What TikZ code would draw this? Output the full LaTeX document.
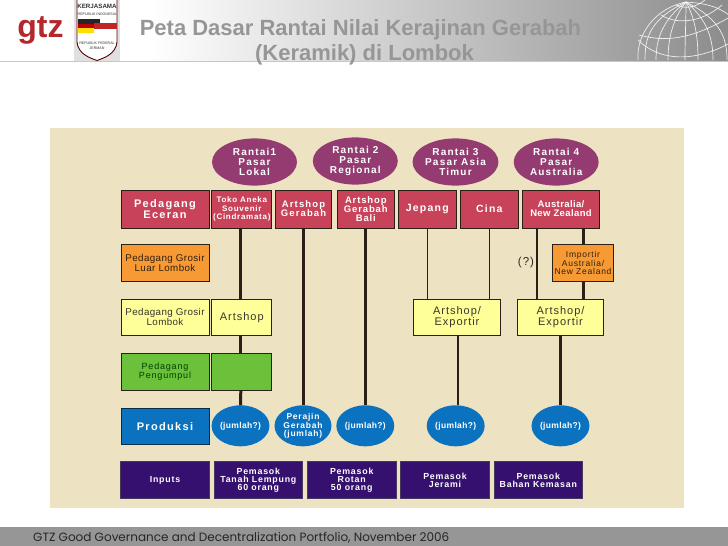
\documentclass[tikz,border=0pt]{standalone}
\usepackage{fontspec}
\setmainfont{Liberation Sans}
\newfontfamily\spwide[LetterSpace=12]{Liberation Sans}
\newfontfamily\spmid[LetterSpace=9]{Liberation Sans}
\newfontfamily\spnarrow[LetterSpace=4]{Liberation Sans}
\newfontfamily\footfont{Poppins}
\usetikzlibrary{shapes.geometric, positioning}

\definecolor{panelbg}{HTML}{EDE3C3}
\definecolor{plum}{HTML}{943C71}
\definecolor{brick}{HTML}{C8435A}
\definecolor{amber}{HTML}{F79A33}
\definecolor{paleyellow}{HTML}{FFFF99}
\definecolor{leaf}{HTML}{6CC13A}
\definecolor{seablue}{HTML}{0A72BE}
\definecolor{indigo}{HTML}{35106F}
\definecolor{darkline}{HTML}{2A2015}
\definecolor{headgray}{HTML}{8C8C8C}
\definecolor{titlegray}{HTML}{969696}
\definecolor{gtzred}{HTML}{B5272C}

\tikzset{
  cell/.style={rectangle, draw=darkline, line width=0.9pt, inner sep=0pt, outer sep=0pt, align=center},
  redcell/.style={cell, fill=brick, text=white},
  orangecell/.style={cell, fill=amber, text=black!75!brown},
  yellowcell/.style={cell, fill=paleyellow, text=black!80!olive},
  greencell/.style={cell, fill=leaf, text=black!75!green},
  inputcell/.style={cell, draw=black!50!indigo!80, fill=indigo, text=white, minimum width=88.7, minimum height=36.3},
  chainoval/.style={ellipse, fill=plum, text=white, inner sep=0pt, outer sep=0pt, align=center,
    minimum width=85, minimum height=47.2, font=\spwide\bfseries\fontsize{10}{10}\selectfont},
  jumlahoval/.style={ellipse, fill=seablue, text=white, inner sep=0pt, outer sep=0pt, align=center,
    minimum width=57, minimum height=41, font=\spnarrow\bfseries\fontsize{8.5}{7.6}\selectfont},
  thickflow/.style={draw=darkline, line width=3pt},
  thinflow/.style={draw=darkline, line width=1.6pt},
}

\begin{document}
\begin{tikzpicture}[x=1pt,y=-1pt]
\useasboundingbox (0,0) rectangle (728,546);

% ---------- Header band ----------
\shade[left color=white,right color=headgray] (150,0) rectangle (728,61);
\draw[black!22,line width=0.8pt] (0,61) -- (728,61);

% Globe, clipped by the band
\begin{scope}
  \clip (628,0) rectangle (728,60.5);
  \begin{scope}[draw=white,opacity=0.85,line width=0.7pt]
    \draw (638,60) .. controls (636,35) and (655,8) .. (686,2);
    \draw (686,2) .. controls (715,4) and (725,10) .. (740,25);
    \foreach \xb/\xc in {645/648, 656/662, 668/672, 685/686, 698/696, 713/708, 727/722} {
      \draw (686,2) .. controls (\xc,20) and (\xb,40) .. (\xb,60);
    }
    \draw (639,35) .. controls (665,42) and (690,40) .. (730,17);
    \draw (638,40) .. controls (660,62) and (695,62) .. (730,43);
    \draw (661,15) .. controls (675,24) and (700,24) .. (722,5);
    \draw (676,5) .. controls (685,9) and (695,8) .. (705,0);
  \end{scope}
\end{scope}

% ---------- Logos ----------
\node[font=\bfseries\fontsize{32}{32}\selectfont, text=gtzred, inner sep=0pt, anchor=base] (gtz) at (40.5,37) {gtz};

\fill[black!12] (74,0) rectangle (120,61);
\filldraw[fill=white,draw=red!35!black,line width=0.9pt]
  (77,-1) -- (77,42) .. controls (78,54) and (90,58) .. (97,60.5)
  .. controls (104,58) and (116,54) .. (117,42) -- (117,-1);
\fill[black!85] (78,19) rectangle (100,24);
\fill[red!75!black] (78,24) rectangle (94,28);
\fill[red!70!black!85] (94,23) rectangle (117,29);
\fill[yellow!80!orange] (78,28) rectangle (94,33);
\node[font=\bfseries\fontsize{6.2}{6.2}\selectfont, text=black!80, inner sep=0pt] (kerjasama) at (97,6.5) {KERJASAMA};
\node[font=\fontsize{3.6}{3.6}\selectfont, text=black!80, inner sep=0pt] (indonesia) at (97,14.5) {REPUBLIK INDONESIA};
\node[font=\fontsize{3.6}{5}\selectfont, text=black!80, inner sep=0pt, align=center] (jerman) at (97,45.5) {REPUBLIK FEDERAL\\JERMAN};

% ---------- Title ----------
\node[font=\bfseries\fontsize{22}{25.5}\selectfont, text=titlegray, inner sep=0pt, align=center, anchor=base] (title) at (360.5,60.5)
  {Peta Dasar Rantai Nilai Kerajinan Gerabah\\\hspace*{8pt}(Keramik) di Lombok};

% ---------- Panel ----------
\fill[panelbg] (50,128) rectangle (684,508);

% Chains
\node[chainoval] (chaina) at (254.5,162) {Rantai1\\Pasar\\Lokal};
\node[chainoval] (chainb) at (355.3,161) {Rantai 2\\Pasar\\Regional};
\node[chainoval] (chainc) at (455.5,162) {Rantai 3\\Pasar Asia\\Timur};
\node[chainoval] (chaind) at (556.2,162) {Rantai 4\\Pasar\\Australia};

% Retail row
\node[redcell, minimum width=88, minimum height=38, font=\spwide\bfseries\fontsize{11}{11}\selectfont] (eceran) at (165,209) {Pedagang\\Eceran};
\node[redcell, minimum width=60, minimum height=38, font=\spmid\bfseries\fontsize{8}{8.2}\selectfont] (toko) at (241.8,209) {Toko Aneka\\Souvenir\\(Cindramata)};
\node[redcell, minimum width=56.5, minimum height=38, font=\spwide\bfseries\fontsize{9.5}{9}\selectfont] (gerabah) at (303.5,209) {Artshop\\Gerabah};
\node[redcell, minimum width=57, minimum height=38, font=\spmid\bfseries\fontsize{9.5}{9}\selectfont] (bali) at (365.8,209) {Artshop\\Gerabah\\Bali};
\node[redcell, minimum width=58, minimum height=38, font=\spwide\bfseries\fontsize{10.5}{11}\selectfont] (jepang) at (427.3,209) {Jepang};
\node[redcell, minimum width=58, minimum height=38, font=\spwide\bfseries\fontsize{10.5}{11}\selectfont] (cina) at (489.3,209) {Cina};
\node[redcell, minimum width=77.4, minimum height=38, font=\spnarrow\bfseries\fontsize{9.5}{9}\selectfont] (aus) at (561,209) {Australia/\\New Zealand};

% Wholesale row
\node[orangecell, minimum width=88, minimum height=37.4, font=\spnarrow\fontsize{9.8}{8}\selectfont] (luar) at (165,263) {Pedagang Grosir\\Luar Lombok};
\node[orangecell, minimum width=61.4, minimum height=37.4, font=\spmid\fontsize{8.5}{7.6}\selectfont] (importir) at (583,263) {Importir\\Australia/\\New Zealand};
\node[inner sep=0pt, font=\spmid\fontsize{11.5}{11.5}\selectfont, text=black!85] (tanya) at (526,262.7) {(?)};

% Local row
\node[yellowcell, minimum width=88, minimum height=36, font=\spnarrow\fontsize{9.8}{8.2}\selectfont] (lombok) at (165,317.3) {Pedagang Grosir\\Lombok};
\node[yellowcell, minimum width=60, minimum height=36, font=\spmid\fontsize{11}{10}\selectfont] (artshop) at (241.8,317.3) {Artshop};
\node[yellowcell, minimum width=87.4, minimum height=36, font=\spmid\fontsize{11}{9}\selectfont] (exportira) at (457,317.3) {Artshop/\\Exportir};
\node[yellowcell, minimum width=86.4, minimum height=36, font=\spmid\fontsize{11}{9}\selectfont] (exportirb) at (560.5,317.3) {Artshop/\\Exportir};

% Collector row
\node[greencell, minimum width=88, minimum height=37.4, font=\spmid\fontsize{9}{9}\selectfont] (pengumpul) at (165,372) {Pedagang\\Pengumpul};
\node[greencell, minimum width=60, minimum height=37.4] (blank) at (241.8,372) {};

% Production row
\node[cell, draw=black!60!seablue, fill=seablue, text=white, minimum width=88, minimum height=36.7, font=\spwide\bfseries\fontsize{11}{11}\selectfont] (produksi) at (165,426.3) {Produksi};
\node[jumlahoval] (jumlaha) at (240.5,425.8) {(jumlah?)};
\node[jumlahoval, font=\spmid\bfseries\fontsize{8.5}{7.6}\selectfont] (jumlahb) at (303,425.8) {Perajin\\Gerabah\\(jumlah)};
\node[jumlahoval] (jumlahc) at (365.3,425.8) {(jumlah?)};
\node[jumlahoval] (jumlahd) at (455.7,425.8) {(jumlah?)};
\node[jumlahoval] (jumlahe) at (560.5,425.8) {(jumlah?)};

% Inputs row
\foreach \n/\xpos/\lbl in {inputs/165/{Inputs}, tanah/258.3/{Pemasok\\Tanah Lempung\\60 orang}, rotan/351.7/{Pemasok\\Rotan\\50 orang},
    jerami/445/{Pemasok\\Jerami}, kemasan/538.3/{Pemasok\\Bahan Kemasan}} {
  \node[inputcell, font=\spmid\bfseries\fontsize{8.8}{8.2}\selectfont] (\n) at (\xpos,480) {\lbl};
}

% ---------- Flows ----------
\draw[thickflow] ([xshift=-1pt]toko.south) -- ([xshift=-1pt]artshop.north);
\draw[thickflow] ([xshift=-1pt]artshop.south) -- ([xshift=-1pt]blank.north);
\draw[thickflow] ([xshift=-1pt]blank.south) -- (jumlaha.north);
\draw[thickflow] (jumlahb.north |- gerabah.south) -- (jumlahb.north);
\draw[thickflow] (jumlahc.north |- bali.south) -- (jumlahc.north);

\draw[thinflow] (jepang.south) -- (jepang.south |- exportira.north);
\draw[thinflow] (cina.south) -- (cina.south |- exportira.north);
\draw[thinflow] ([xshift=1pt]exportira.south) -- ([xshift=2.3pt]jumlahd.north);

\draw[thinflow] ([xshift=-24pt]aus.south) -- ([xshift=-24pt]aus.south |- exportirb.north);
\draw[thickflow] (importir.north |- aus.south) -- (importir.north);
\draw[thickflow] (importir.south) -- (importir.south |- exportirb.north);
\draw[thickflow] (exportirb.south) -- (jumlahe.north);

% ---------- Footer ----------
\fill[black!41] (0,527) rectangle (728,546);
\node[font=\footfont\fontsize{12}{12}\selectfont, text=black!85, inner sep=0pt, anchor=west] (footer) at (33,538)
  {GTZ Good Governance and Decentralization Portfolio, November 2006};

\end{tikzpicture}
\end{document}
